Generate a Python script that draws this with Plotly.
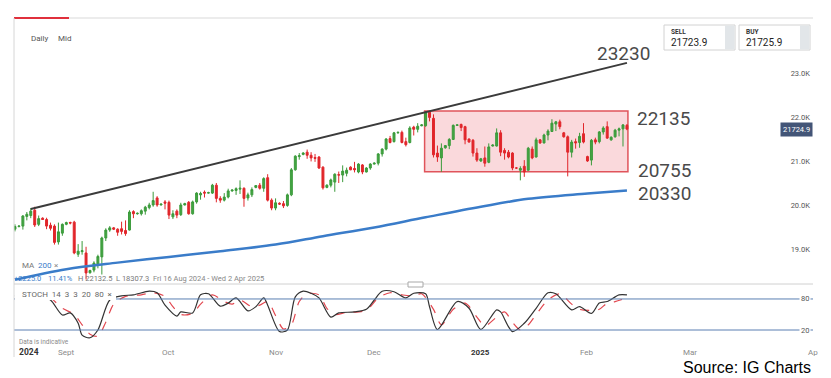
import plotly.graph_objects as go
import pandas as pd

W, H = 831, 378

# ---------------- DATA ----------------
# Daily sessions (Sun-Fri) from Fri 16 Aug 2024 to Thu 13 Feb 2025
session_dates = [d for d in pd.date_range('2024-08-16', '2025-02-13', freq='D') if d.weekday() != 5]

opens = [
    19450, 19510, 19520, 19740, 19760, 19880, 19560,
    19700, 19670, 19540, 19520, 19160, 19360,
    19560, 19600, 19610, 18880, 18940, 18910,
    18460, 18520, 18650, 18820, 19250, 19430,
    19480, 19450, 19460, 19420, 19430, 19850,
    19800, 19800, 19860, 19940, 20000, 20160,
    20000, 20070, 20060, 19730, 19860, 19780,
    20000, 20060, 19800, 20070, 20230, 20290,
    20270, 20270, 20450, 20150, 20110, 20180,
    20320, 20330, 20360, 20380, 20160, 20230,
    20400, 20450, 20380, 20620, 20110, 19930,
    20040, 20030, 19990, 20230, 20800, 21100,
    21150, 21200, 21130, 21080, 21090, 20860,
    20400, 20450, 20520, 20690, 20680, 20720,
    20860, 20830, 20750, 20910, 20750, 20840,
    20930, 20950, 21160, 21270, 21510, 21440,
    21640, 21650, 21440, 21420, 21770, 21720,
    21800, 21800, 22110, 21970, 21180, 21070,
    21300, 21350, 21490, 21810, 21830, 21780,
    21500, 21470, 21180, 21000, 21070, 20970,
    21340, 21340, 21640, 21240, 21200, 21180,
    20840, 20790, 20880, 20790, 21270, 21090,
    21480, 21410, 21590, 21670, 21840, 21890,
    21640, 21550, 21200, 21440, 21420, 21620,
    21100, 21020, 21480, 21440, 21660, 21780,
    21480, 21550, 21700, 21730, 21810,
]
highs = [
    19560, 19540, 19770, 19840, 19930, 19960, 19760,
    19720, 19710, 19600, 19560, 19600, 19580,
    19620, 19620, 19640, 19110, 19180, 19050,
    18530, 18720, 18870, 19280, 19470, 19520,
    19500, 19470, 19620, 19650, 19880, 19880,
    19830, 19900, 19980, 20050, 20300, 20200,
    20030, 20110, 20100, 19880, 19900, 20050,
    20050, 20090, 20100, 20290, 20300, 20330,
    20300, 20480, 20500, 20200, 20270, 20370,
    20350, 20400, 20560, 20400, 20280, 20400,
    20450, 20500, 20630, 20700, 20150, 20150,
    20060, 20090, 20260, 20840, 21130, 21180,
    21200, 21260, 21200, 21160, 21110, 20880,
    20470, 20600, 20720, 20760, 20900, 20850,
    20880, 20980, 20950, 20930, 20860, 20950,
    20970, 21180, 21290, 21520, 21570, 21660,
    21670, 21690, 21530, 21790, 21800, 21860,
    21840, 22132.5, 22120, 22060, 21350, 21400,
    21360, 21520, 21830, 21830, 21850, 21800,
    21510, 21500, 21290, 21070, 21330, 21400,
    21380, 21740, 21700, 21290, 21250, 21200,
    20860, 20880, 21020, 21320, 21330, 21530,
    21500, 21620, 21720, 21950, 21910, 21940,
    21660, 21580, 21480, 21510, 21640, 21860,
    21120, 21500, 21530, 21680, 21790, 21900,
    21560, 21730, 21760, 21840, 21840,
]
lows = [
    19400, 19490, 19440, 19650, 19700, 19500, 19520,
    19660, 19450, 19420, 19100, 19100, 19300,
    19540, 19560, 18880, 18820, 18870, 18307.3,
    18440, 18470, 18560, 18420, 19180, 19390,
    19430, 19300, 19330, 19300, 19420, 19700,
    19780, 19760, 19780, 19900, 19960, 19960,
    19990, 19900, 19680, 19680, 19700, 19750,
    19990, 19780, 19780, 20030, 20120, 20170,
    20260, 20250, 20060, 20050, 20080, 20150,
    20300, 20230, 20250, 19960, 20100, 20180,
    20380, 20350, 20300, 20080, 19880, 19880,
    20000, 19930, 19960, 20200, 20780, 21030,
    21130, 21050, 20990, 20980, 20820, 20350,
    20380, 20400, 20300, 20500, 20520, 20650,
    20790, 20740, 20720, 20700, 20740, 20800,
    20920, 20900, 21100, 21240, 21400, 21420,
    21620, 21400, 21330, 21400, 21580, 21650,
    21790, 21780, 21900, 21080, 20980, 20755,
    21280, 21270, 21480, 21800, 21680, 21380,
    21420, 21100, 20980, 20980, 20870, 20950,
    21330, 21330, 21110, 21030, 21060, 20790,
    20820, 20560, 20640, 20780, 21040, 21080,
    21390, 21400, 21470, 21660, 21680, 21720,
    21530, 20650, 21080, 21280, 21300, 21400,
    20980, 20900, 21380, 21400, 21600, 21500,
    21460, 21530, 21560, 21330, 21700,
]
closes = [
    19510, 19520, 19750, 19790, 19860, 19545, 19690,
    19670, 19520, 19470, 19150, 19390, 19560,
    19600, 19590, 18910, 18950, 18960, 18455,
    18510, 18680, 18830, 19250, 19430, 19480,
    19450, 19380, 19400, 19350, 19840, 19800,
    19810, 19870, 19950, 20000, 20100, 20000,
    20020, 20040, 19770, 19800, 19770, 20000,
    20030, 19800, 20070, 20270, 20260, 20270,
    20280, 20450, 20150, 20110, 20180, 20320,
    20340, 20370, 20380, 20150, 20230, 20350,
    20440, 20380, 20600, 20110, 19930, 20050,
    20020, 19980, 20230, 20800, 21110, 21120,
    21180, 21130, 21070, 21060, 20840, 20390,
    20450, 20570, 20700, 20680, 20770, 20790,
    20800, 20800, 20930, 20750, 20840, 20930,
    20950, 21160, 21270, 21500, 21420, 21640,
    21650, 21420, 21370, 21750, 21720, 21790,
    21820, 22100, 21990, 21140, 21090, 21290,
    21350, 21490, 21810, 21820, 21760, 21480,
    21430, 21180, 21020, 21050, 20950, 21320,
    21360, 21640, 21200, 21180, 21090, 20840,
    20840, 20830, 20750, 21290, 21070, 21480,
    21410, 21590, 21680, 21860, 21890, 21780,
    21550, 21200, 21430, 21410, 21560, 21430,
    21000, 21470, 21430, 21660, 21750, 21520,
    21540, 21700, 21730, 21820, 21724.9,
]

# 200-day moving average
ma_dates = ['2024-08-16', '2024-09-01', '2024-09-16', '2024-10-01', '2024-10-16', '2024-11-01',
            '2024-11-15', '2024-12-01', '2024-12-16', '2025-01-01', '2025-01-15', '2025-02-02', '2025-02-13']
ma_values = [18300, 18540, 18690, 18820, 18950, 19100, 19290, 19490, 19720, 19960, 20140, 20260, 20330]

# Rising trendline
trend_dates = ['2024-08-21', '2025-02-13']
trend_values = [19909, 23230]

# Range box
box_dates = ['2024-12-15 18:00', '2025-02-13 06:00']
box_top, box_bottom = 22135, 20755
ma_level = 20330
trend_level = 23230

# Stochastic %K and %D
k_dates = ['2024-08-16', '2024-08-19', '2024-08-21', '2024-08-23', '2024-08-27', '2024-08-30', '2024-09-02',
           '2024-09-04', '2024-09-05', '2024-09-08', '2024-09-10', '2024-09-13', '2024-09-17', '2024-09-20',
           '2024-09-25', '2024-09-27', '2024-09-30', '2024-10-03', '2024-10-04', '2024-10-08', '2024-10-10',
           '2024-10-13', '2024-10-16', '2024-10-18', '2024-10-21', '2024-10-24', '2024-10-27', '2024-10-29',
           '2024-10-30', '2024-11-03', '2024-11-05', '2024-11-07', '2024-11-10', '2024-11-12', '2024-11-14',
           '2024-11-18', '2024-11-20', '2024-11-25', '2024-11-28', '2024-12-01', '2024-12-03', '2024-12-06',
           '2024-12-10', '2024-12-12', '2024-12-16', '2024-12-17', '2024-12-19', '2024-12-25', '2024-12-29',
           '2025-01-01', '2025-01-06', '2025-01-07', '2025-01-10', '2025-01-14', '2025-01-17', '2025-01-21',
           '2025-01-23', '2025-01-28', '2025-01-30', '2025-02-03', '2025-02-05', '2025-02-07', '2025-02-11',
           '2025-02-13']
k_values = [85, 92, 95, 88, 78, 49, 53,
            33, 10, 5, 20, 78, 86, 88,
            95, 92, 68, 47, 55, 53, 88,
            90, 66, 72, 82, 57, 65, 82,
            68, 17, 20, 84, 95, 91, 82,
            45, 53, 55, 60, 78, 95, 94,
            82, 91, 90, 65, 21, 75, 62,
            21, 59, 55, 17, 33, 62, 92,
            90, 59, 65, 52, 72, 75, 88,
            88]
d_dates = ['2024-08-16', '2024-08-21', '2024-08-26', '2024-08-30', '2024-09-03', '2024-09-05', '2024-09-08',
           '2024-09-10', '2024-09-12', '2024-09-15', '2024-09-18', '2024-09-23', '2024-09-26', '2024-09-30',
           '2024-10-02', '2024-10-04', '2024-10-08', '2024-10-10', '2024-10-14', '2024-10-17', '2024-10-20',
           '2024-10-22', '2024-10-25', '2024-10-28', '2024-10-30', '2024-11-01', '2024-11-04', '2024-11-06',
           '2024-11-08', '2024-11-11', '2024-11-14', '2024-11-17', '2024-11-19', '2024-11-22', '2024-11-27',
           '2024-11-29', '2024-12-02', '2024-12-05', '2024-12-09', '2024-12-12', '2024-12-15', '2024-12-18',
           '2024-12-20', '2024-12-24', '2024-12-27', '2024-12-31', '2025-01-02', '2025-01-06', '2025-01-08',
           '2025-01-10', '2025-01-13', '2025-01-15', '2025-01-17', '2025-01-21', '2025-01-24', '2025-01-28',
           '2025-01-30', '2025-02-03', '2025-02-05', '2025-02-07', '2025-02-10', '2025-02-13']
d_values = [80, 90, 88, 62, 50, 30, 12,
            8, 35, 70, 85, 88, 92, 85,
            65, 50, 52, 70, 88, 75, 70,
            78, 65, 68, 75, 48, 22, 30,
            75, 90, 88, 62, 50, 54, 56,
            65, 82, 92, 88, 86, 90, 60,
            30, 60, 72, 45, 28, 45, 55,
            35, 20, 30, 50, 78, 90, 70,
            60, 58, 60, 72, 75, 82]

price_ticks = [19000, 20000, 21000, 22000, 23000]
price_tick_text = ['19.0K', '20.0K', '21.0K', '22.0K', '23.0K']
month_ticks = ['2024-09-01', '2024-10-01', '2024-11-01', '2024-12-01', '2025-01-01', '2025-02-02', '2025-03-01']
month_text = ['Sept', 'Oct', 'Nov', 'Dec', '2025', 'Feb', 'Mar']
stoch_levels = [80, 20]
sell_price, buy_price, last_price = '21723.9', '21725.9', 21724.9

# ---------------- HELPERS ----------------
def fx(p):
    return p / W

def fy(p):
    return 1 - p / H

FONT = 'Roboto'

def txt(x, y, s, size=8, color='#555', anchor='left', family=FONT, **kw):
    return dict(x=fx(x), y=fy(y), xref='paper', yref='paper', text=s, showarrow=False,
                xanchor=anchor, yanchor='middle', font=dict(size=size, color=color, family=family),
                borderpad=0, **kw)

saturdays = [d.strftime('%Y-%m-%d') for d in pd.date_range('2024-08-17', '2025-02-08', freq='D') if d.weekday() == 5]

fig = go.Figure()

fig.add_trace(go.Candlestick(
    x=session_dates, open=opens, high=highs, low=lows, close=closes,
    increasing=dict(line=dict(color='#3a9a3a', width=1), fillcolor='#44a644'),
    decreasing=dict(line=dict(color='#e1262b', width=1), fillcolor='#e1262b'),
    whiskerwidth=0, xaxis='x', yaxis='y', showlegend=False, hoverinfo='skip'))

fig.add_trace(go.Scatter(x=ma_dates, y=ma_values, mode='lines', line=dict(color='#3a7cc9', width=2.5, shape='spline'),
                         xaxis='x', yaxis='y', showlegend=False, hoverinfo='skip'))
fig.add_trace(go.Scatter(x=trend_dates, y=trend_values, mode='lines', line=dict(color='#3b3b3b', width=2),
                         xaxis='x', yaxis='y', showlegend=False, hoverinfo='skip'))

fig.add_trace(go.Scatter(x=d_dates, y=d_values, mode='lines',
                         line=dict(color='#e2474f', width=1.2, dash='dash', shape='spline', smoothing=0.8),
                         xaxis='x2', yaxis='y2', showlegend=False, hoverinfo='skip'))
fig.add_trace(go.Scatter(x=k_dates, y=k_values, mode='lines',
                         line=dict(color='#333333', width=1.2, shape='spline', smoothing=0.8),
                         xaxis='x2', yaxis='y2', showlegend=False, hoverinfo='skip'))

shapes = []
# range box
shapes.append(dict(type='rect', xref='x', yref='y', x0=box_dates[0], x1=box_dates[1], y0=box_bottom, y1=box_top,
                   fillcolor='rgba(240,140,148,0.33)', line=dict(color='#e0545b', width=1.5), layer='below'))
# stochastic levels
for lv in stoch_levels:
    shapes.append(dict(type='line', xref='paper', yref='y2', x0=fx(14), x1=fx(813), y0=lv, y1=lv,
                       line=dict(color='#5a7fb2', width=1)))
# frame lines
shapes.append(dict(type='line', xref='paper', yref='paper', x0=fx(14), x1=fx(813), y0=fy(18), y1=fy(18),
                   line=dict(color='#e6e6e6', width=1.5)))
shapes.append(dict(type='line', xref='paper', yref='paper', x0=fx(14), x1=fx(69), y0=fy(18), y1=fy(18),
                   line=dict(color='#e0303c', width=2)))
shapes.append(dict(type='line', xref='paper', yref='paper', x0=fx(14), x1=fx(14), y0=fy(18), y1=fy(357),
                   line=dict(color='#d6d6d6', width=1)))
shapes.append(dict(type='line', xref='paper', yref='paper', x0=fx(14), x1=fx(813), y0=fy(284), y1=fy(284),
                   line=dict(color='#d0d0d0', width=1)))
# scroll handle
shapes.append(dict(type='rect', xref='paper', yref='paper', x0=fx(408), x1=fx(423), y0=fy(287), y1=fy(282),
                   fillcolor='white', line=dict(color='#a8a8a8', width=1)))
# stoch label backdrop
shapes.append(dict(type='rect', xref='paper', yref='paper', x0=fx(15), x1=fx(116), y0=fy(300), y1=fy(288),
                   fillcolor='white', line=dict(width=0), layer='above'))
# sell / buy boxes
for x0, x1 in [(664, 735), (739, 810)]:
    shapes.append(dict(type='rect', xref='paper', yref='paper', x0=fx(x0), x1=fx(x1), y0=fy(50), y1=fy(25),
                       fillcolor='white', line=dict(color='#d2d2d2', width=1)))
    shapes.append(dict(type='rect', xref='paper', yref='paper', x0=fx(x1 - 10), x1=fx(x1 - 0.5), y0=fy(49.5), y1=fy(25.5),
                       fillcolor='#e2e6e9', line=dict(width=0)))

ann = []
ann.append(txt(30, 39, 'Daily', 8, '#555'))
ann.append(txt(57, 39, 'Mid', 8, '#555'))
ann.append(txt(670, 32, '<b>SELL</b>', 6.5, '#333'))
ann.append(txt(670, 43, sell_price, 10, '#222'))
ann.append(txt(745, 32, '<b>BUY</b>', 6.5, '#333'))
ann.append(txt(745, 43, buy_price, 10, '#222'))
# level labels
ann.append(txt(623, 53.5, str(trend_level), 19, '#4a4a4a', 'center'))
ann.append(txt(636, 118.5, str(box_top), 19, '#4a4a4a'))
ann.append(txt(637, 170.5, str(box_bottom), 19, '#4a4a4a'))
ann.append(txt(637, 193, str(ma_level), 19, '#4a4a4a'))
# last price tag
ann.append(dict(x=fx(813), y=last_price, xref='paper', yref='y', text=f'{last_price}', showarrow=False,
                xanchor='right', yanchor='middle', bgcolor='#435577', borderpad=2,
                font=dict(size=7.5, color='white', family=FONT)))
# MA legend + info row
ann.append(txt(21, 265, 'MA', 8, '#777'))
ann.append(txt(37, 265, '200', 8, '#3a7cc9'))
ann.append(txt(53, 265, '×', 8, '#888'))
ann.append(txt(13, 278, '+2225.0', 7.5, '#3a7cc9'))
ann.append(txt(47, 278, '11.41%', 7.5, '#3a7cc9'))
ann.append(txt(77, 278, 'H 22132.5', 7.5, '#777'))
ann.append(txt(115, 278, 'L 18307.3', 7.5, '#777'))
ann.append(txt(152, 278, 'Fri 16 Aug 2024 - Wed 2 Apr 2025', 7.5, '#888'))
# stoch label
ann.append(txt(21, 294, 'STOCH&nbsp;&nbsp;14&nbsp;&nbsp;3&nbsp;&nbsp;3&nbsp;&nbsp;20&nbsp;&nbsp;80&nbsp;&nbsp;×', 8, '#666'))
for lv in stoch_levels:
    ann.append(dict(x=fx(805), y=lv, xref='paper', yref='y2', text=str(lv), showarrow=False, xanchor='center',
                    yanchor='middle', bgcolor='white', borderpad=1, font=dict(size=7.5, color='#555', family=FONT)))
ann.append(txt(18, 342, 'Data is indicative', 6.5, '#8a8a8a'))
ann.append(txt(18, 352, '<b>2024</b>', 8.5, '#333'))
for d, t in zip(month_ticks, month_text):
    label = f'<b>{t}</b>' if t == '2025' else t
    color = '#333' if t == '2025' else '#8a8a8a'
    ann.append(dict(x=d, y=fy(352), xref='x2', yref='paper', text=label, showarrow=False, xanchor='center',
                    yanchor='middle', font=dict(size=8, color=color, family=FONT)))
ann.append(txt(807, 352, 'Ap', 8, '#8a8a8a'))
ann.append(txt(682, 367, 'Source: IG Charts', 16, '#000000', family='Liberation Sans'))

x_range = ['2024-08-15 18:00', '2025-04-01 03:00']
rb = [dict(values=saturdays)]

fig.update_layout(
    width=W, height=H, margin=dict(l=0, r=0, t=0, b=0),
    paper_bgcolor='white', plot_bgcolor='white',
    showlegend=False, hovermode=False,
    xaxis=dict(domain=[fx(14), fx(813)], range=x_range, type='date', rangebreaks=rb,
               showticklabels=False, showgrid=False, zeroline=False, showline=False, ticks='',
               anchor='y', rangeslider=dict(visible=False)),
    xaxis2=dict(domain=[fx(14), fx(813)], range=x_range, type='date', rangebreaks=rb, matches='x',
                showticklabels=False, showgrid=False, zeroline=False, showline=False, ticks='', anchor='y2'),
    yaxis=dict(domain=[fy(284), fy(18)], range=[18204, 24250], side='right', anchor='x',
               tickvals=price_ticks, ticktext=price_tick_text, ticklabelposition='inside',
               tickfont=dict(size=7.5, color='#555', family=FONT), showgrid=False, zeroline=False,
               showline=False, ticks=''),
    yaxis2=dict(domain=[fy(345), fy(285)], range=[-9, 107], anchor='x2', showticklabels=False,
                showgrid=False, zeroline=False, showline=False, ticks=''),
    shapes=shapes, annotations=ann,
)

fig.write_html('out.html', config={'displayModeBar': False, 'staticPlot': True},
               post_script="document.body.style.margin='0';document.body.style.overflow='hidden';")
